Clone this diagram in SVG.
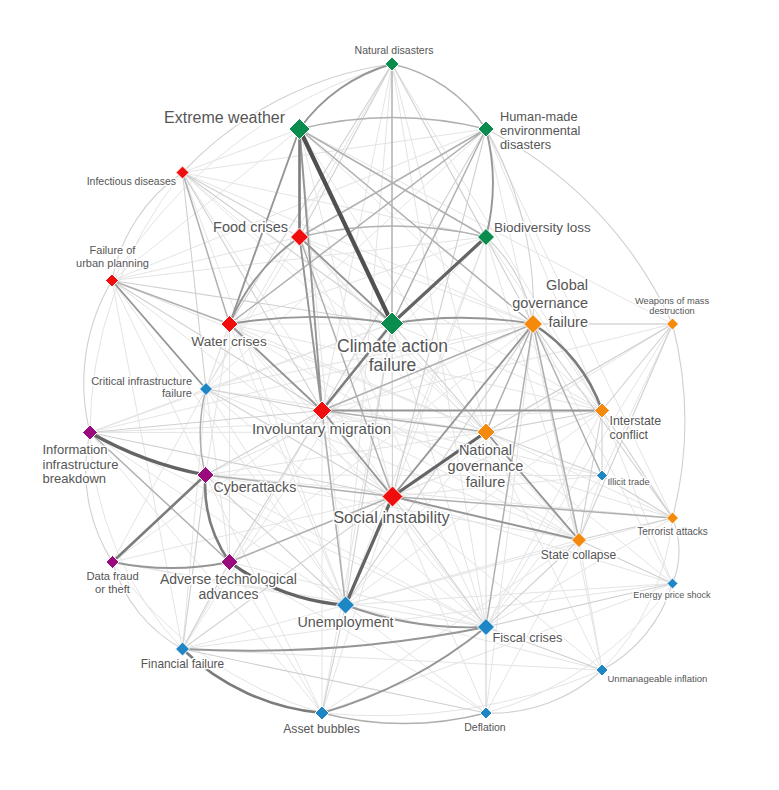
<svg xmlns="http://www.w3.org/2000/svg" width="779" height="790" viewBox="0 0 779 790">
<style>
.e0{stroke:#e4e4e4;stroke-width:1;fill:none}
.e1{stroke:#d0d0d0;stroke-width:1.1;fill:none}
.e2{stroke:#b0b0b0;stroke-width:1.5;fill:none}
.e3{stroke:#969696;stroke-width:1.9;fill:none}
.e4{stroke:#7c7c7c;stroke-width:2.6;fill:none}
.e5{stroke:#646464;stroke-width:3.2;fill:none}
.e6{stroke:#505050;stroke-width:4.2;fill:none}
.t{font-family:"Liberation Sans",Arial,Helvetica,sans-serif;fill:#565656;paint-order:stroke;stroke:#fff;stroke-width:3px;stroke-linejoin:round}
.g{fill:#0a8c4e;stroke:#fff;stroke-width:1}
.r{fill:#f00d0d;stroke:#fff;stroke-width:1}
.o{fill:#f5890c;stroke:#fff;stroke-width:1}
.b{fill:#1f86c6;stroke:#fff;stroke-width:1}
.p{fill:#9b0a7c;stroke:#fff;stroke-width:1}
</style>
<rect width="779" height="790" fill="#fff"/>
<g id="connectors" stroke-linecap="round">
<g class="e0">
<path d="M392 64L322 410.5M392 64L345.5 605M392 64L206 389M392 64L486 627M392 64L486 432M392 64L602 410.5"/>
<path d="M299.5 129L182.5 172.5M299.5 129L112 280.5M299.5 129L206 389M299.5 129L392.5 496.5M299.5 129L486 432M299.5 129L602 410.5M299.5 129L672.5 324M299.5 129L345.5 605"/>
<path d="M486 129L182.5 172.5M486 129L112 280.5M486 129L206 389M486 129L602 410.5M486 129L579 540M486 129L672.5 518"/>
<path d="M182.5 172.5L486 237M182.5 172.5L392.5 496.5M182.5 172.5L533 324M182.5 172.5L486 432M182.5 172.5L345.5 605M182.5 172.5L579 540"/>
<path d="M299.5 237L533 324M299.5 237L486 432M299.5 237L602 410.5M299.5 237L345.5 605M299.5 237L112 280.5M299.5 237L206 389M299.5 237L579 540M299.5 237L486 627"/>
<path d="M486 237L229.5 324M486 237L322 410.5M486 237L392.5 496.5M486 237L345.5 605M486 237L486 432M486 237L602 410.5M486 237L579 540M486 237L112 280.5M486 237L486 627"/>
<path d="M112 280.5L392.5 496.5M112 280.5L205.5 475M112 280.5L486 432M112 280.5L182.5 649M112 280.5L345.5 605"/>
<path d="M229.5 324L533 324M229.5 324L392.5 496.5M229.5 324L486 432M229.5 324L205.5 475M229.5 324L345.5 605M229.5 324L602 410.5M229.5 324L579 540M229.5 324L229.5 562M229.5 324L486 627M229.5 324L206 389"/>
<path d="M392 323.5L602 410.5M392 323.5L672.5 324M392 323.5L486 627M392 323.5L579 540M392 323.5L206 389M392 323.5L90 432.5M392 323.5L182.5 649M392 323.5L322 713"/>
<path d="M533 324L229.5 562M533 324L205.5 475M533 324L90 432.5M533 324L206 389M533 324L672.5 583.5M533 324L602 670M533 324L486 713"/>
<path d="M672.5 324L392.5 496.5M672.5 324L602 475.5M672.5 324L322 410.5M672.5 324L486 627"/>
<path d="M206 389L229.5 562M206 389L486 432M206 389L345.5 605M206 389L182.5 649M206 389L112.5 562M206 389L486 627M206 389L579 540M206 389L90 432.5"/>
<path d="M90 432.5L345.5 605M90 432.5L486 432M90 432.5L602 410.5M90 432.5L486 627M90 432.5L322 713"/>
<path d="M322 410.5L672.5 518M322 410.5L579 540M322 410.5L486 627M322 410.5L602 475.5M322 410.5L322 713M322 410.5L182.5 649M322 410.5L112.5 562"/>
<path d="M602 410.5L392.5 496.5M602 410.5L486 627M602 410.5L672.5 583.5M602 410.5L345.5 605M602 410.5L229.5 562"/>
<path d="M486 432L672.5 518M486 432L486 627M486 432L345.5 605M486 432L205.5 475M486 432L602 670M486 432L672.5 583.5"/>
<path d="M602 475.5L579 540M602 475.5L392.5 496.5M602 475.5L486 627M602 475.5L205.5 475"/>
<path d="M205.5 475L486 627M205.5 475L322 713M205.5 475L579 540M205.5 475L672.5 518"/>
<path d="M392.5 496.5L322 713M392.5 496.5L486 713M392.5 496.5L602 670M392.5 496.5L672.5 583.5M392.5 496.5L112.5 562"/>
<path d="M672.5 518L486 627M672.5 518L345.5 605M579 540L345.5 605M579 540L602 670M579 540L486 713M579 540L322 713"/>
<path d="M112.5 562L345.5 605M112.5 562L486 627M229.5 562L486 627M229.5 562L322 713M229.5 562L486 713"/>
<path d="M672.5 583.5L345.5 605M672.5 583.5L322 713M672.5 583.5L182.5 649M345.5 605L486 713M345.5 605L182.5 649M345.5 605L602 670M182.5 649L602 670"/>
<path d="M392 64A495 495 0 0 0 112 280.5"/>
<path d="M90 432.5A330 330 0 0 0 182.5 649"/>
<path d="M672.5 518A250 250 0 0 1 602 670"/>
<path d="M672.5 583.5A340 340 0 0 1 486 713"/>
<path d="M182.5 172.5A414 414 0 0 0 90 432.5"/>
<path d="M112.5 562A387 387 0 0 0 322 713"/>
<path d="M322 713A566 566 0 0 0 602 670"/>
</g>
<g class="e1">
<path d="M182.5 172.5L299.5 237M182.5 172.5L392 323.5M182.5 172.5L322 410.5M182.5 172.5L206 389"/>
<path d="M392 64L299.5 237M392 64L486 237M392 64L229.5 324M392 64L533 324"/>
<path d="M486 129L322 410.5M486 129L392.5 496.5"/>
<path d="M112 280.5L392 323.5M112 280.5L322 410.5M206 389L392.5 496.5M206 389L322 410.5M90 432.5L392.5 496.5M90 432.5L322 410.5"/>
<path d="M672.5 324L602 410.5M672.5 324L579 540M672.5 324L486 432M533 324L672.5 324"/>
<path d="M602 410.5L486 432M602 410.5L579 540M602 410.5L672.5 518M602 410.5L602 475.5M602 475.5L672.5 518M486 432L602 475.5"/>
<path d="M579 540L486 627M392.5 496.5L486 627M392.5 496.5L182.5 649M345.5 605L322 713M229.5 562L182.5 649"/>
<path d="M672.5 583.5L486 627M602 670L486 627M579 540L672.5 583.5M672.5 518L579 540M182.5 649L486 713"/>
<path d="M205.5 475L345.5 605M322 410.5L205.5 475M322 410.5L229.5 562M392 323.5L486 432M392 323.5L392.5 496.5M392 323.5L345.5 605"/>
<path d="M533 324L672.5 518M533 324L345.5 605M182.5 649L205.5 475M486 627L486 713"/>
<path d="M392 64A354 354 0 0 0 182.5 172.5"/>
<path d="M182.5 172.5A168 168 0 0 0 112 280.5"/>
<path d="M112 280.5A200 200 0 0 0 90 432.5"/>
<path d="M90 432.5A170 170 0 0 0 112.5 562"/>
<path d="M112.5 562A145 145 0 0 0 182.5 649"/>
<path d="M486 713A161 161 0 0 0 602 670"/>
<path d="M602 670A145 145 0 0 0 672.5 583.5"/>
<path d="M672.5 583.5A85 85 0 0 0 672.5 518"/>
<path d="M672.5 518A390 390 0 0 0 672.5 324"/>
<path d="M672.5 324A405 405 0 0 0 486 129"/>
<path d="M486 129A360 360 0 0 1 533 324"/>
<path d="M486 237A150 150 0 0 1 533 324"/>
</g>
<g class="e2">
<path d="M299.5 129A390 390 0 0 1 486 129"/>
<path d="M392 64A150 150 0 0 1 486 129"/>
<path d="M392 64L392 323.5"/>
<path d="M299.5 129L486 237"/>
<path d="M299.5 237A410 410 0 0 1 486 237"/>
<path d="M486 129L392 323.5M486 129L299.5 237M486 129L229.5 324"/>
<path d="M533 324L486 432M533 324L579 540M533 324L486 627M322 410.5L533 324M533 324L602 475.5"/>
<path d="M322 410.5L345.5 605M392.5 496.5L229.5 562M392.5 496.5L672.5 518M90 432.5L229.5 562"/>
<path d="M322 713A328 328 0 0 0 486 713"/>
<path d="M112 280.5L229.5 324M182.5 172.5L229.5 324"/>
<path d="M206 389A172 172 0 0 0 205.5 475"/>
<path d="M299.5 129L533 324M299.5 237L392.5 496.5M322 410.5L486 432M392.5 496.5L205.5 475"/>
</g>
<g class="e3">
<path d="M299.5 129A170 170 0 0 1 392 64"/>
<path d="M299.5 129L322 410.5M299.5 237L322 410.5M299.5 237L392 323.5M299.5 129L229.5 324"/>
<path d="M299.5 237A200 200 0 0 0 229.5 324"/>
<path d="M229.5 324A490 490 0 0 1 392 323.5"/>
<path d="M392 323.5A420 420 0 0 1 533 324"/>
<path d="M533 324L392.5 496.5"/>
<path d="M345.5 605A355 355 0 0 0 486 627"/>
<path d="M182.5 649A1200 1200 0 0 0 486 627"/>
<path d="M322 713A460 460 0 0 0 486 627"/>
<path d="M112.5 562A290 290 0 0 0 229.5 562"/>
<path d="M486 129A216 216 0 0 1 486 237"/>
<path d="M322 410.5L602 410.5M322 410.5L392.5 496.5M486 432L579 540M392.5 496.5L579 540M112 280.5L206 389M229.5 324L322 410.5"/>
</g>
<g class="e4">
<path d="M299.5 129L299.5 237M392 323.5L322 410.5M205.5 475L112.5 562"/>
<path d="M205.5 475A135 135 0 0 0 229.5 562"/>
<path d="M533 324A166 166 0 0 1 602 410.5"/>
<path d="M182.5 649A230 230 0 0 0 322 713"/>
</g>
<g class="e5">
<path d="M486 237L392 323.5M392.5 496.5L486 432M392.5 496.5L345.5 605"/>
<path d="M90 432.5A370 370 0 0 0 205.5 475"/>
<path d="M229.5 562A223 223 0 0 0 345.5 605"/>
</g>
<g class="e6">
<path d="M299.5 129L392 323.5"/>
</g>
</g>
<g id="nodes">
<g id="natural-disasters"><polygon class="g" points="392,57 399,64 392,71 385,64"/><text class="t" x="394" y="54" font-size="10.5" text-anchor="middle">Natural disasters</text></g>
<g id="extreme-weather"><polygon class="g" points="299.5,118.5 310,129 299.5,139.5 289,129"/><text class="t" x="285" y="123" font-size="16" text-anchor="end">Extreme weather</text></g>
<g id="human-made"><polygon class="g" points="486,121 494,129 486,137 478,129"/><text class="t" font-size="12.8"><tspan x="500" y="121">Human-made</tspan><tspan x="500" y="135">environmental</tspan><tspan x="500" y="149">disasters</tspan></text></g>
<g id="infectious-diseases"><polygon class="r" points="182.5,166 189,172.5 182.5,179 176,172.5"/><text class="t" x="176" y="185" font-size="10.5" text-anchor="end">Infectious diseases</text></g>
<g id="food-crises"><polygon class="r" points="299.5,228 308.5,237 299.5,246 290.5,237"/><text class="t" x="288" y="232" font-size="14.5" text-anchor="end">Food crises</text></g>
<g id="biodiversity-loss"><polygon class="g" points="486,228.5 494.5,237 486,245.5 477.5,237"/><text class="t" x="494" y="232" font-size="13.5">Biodiversity loss</text></g>
<g id="urban-planning"><polygon class="r" points="112,274 118.5,280.5 112,287 105.5,280.5"/><text class="t" font-size="11" text-anchor="middle"><tspan x="112.5" y="254">Failure of</tspan><tspan x="112.5" y="266.5">urban planning</tspan></text></g>
<g id="water-crises"><polygon class="r" points="229.5,315.5 238,324 229.5,332.5 221,324"/><text class="t" x="229" y="346" font-size="13.7" text-anchor="middle">Water crises</text></g>
<g id="climate-action-failure"><polygon class="g" points="392,312 403.5,323.5 392,335 380.5,323.5"/><text class="t" font-size="17.5" text-anchor="middle"><tspan x="392.5" y="352">Climate action</tspan><tspan x="392.5" y="371">failure</tspan></text></g>
<g id="global-governance-failure"><polygon class="o" points="533,314.5 542.5,324 533,333.5 523.5,324"/><text class="t" font-size="14.5" text-anchor="end"><tspan x="588" y="290">Global</tspan><tspan x="588" y="308">governance</tspan><tspan x="588" y="327">failure</tspan></text></g>
<g id="weapons"><polygon class="o" points="672.5,318 678.5,324 672.5,330 666.5,324"/><text class="t" font-size="9.3" text-anchor="middle"><tspan x="672" y="304">Weapons of mass</tspan><tspan x="672" y="314">destruction</tspan></text></g>
<g id="critical-infrastructure"><polygon class="b" points="206,382.5 212.5,389 206,395.5 199.5,389"/><text class="t" font-size="11" text-anchor="end"><tspan x="192" y="385">Critical infrastructure</tspan><tspan x="192" y="397">failure</tspan></text></g>
<g id="information-infrastructure"><polygon class="p" points="90,425 97.5,432.5 90,440 82.5,432.5"/><text class="t" font-size="13"><tspan x="42.5" y="454">Information</tspan><tspan x="42.5" y="468.5">infrastructure</tspan><tspan x="42.5" y="483">breakdown</tspan></text></g>
<g id="involuntary-migration"><polygon class="r" points="322,401 331.5,410.5 322,420 312.5,410.5"/><text class="t" x="321.5" y="434" font-size="15" text-anchor="middle">Involuntary migration</text></g>
<g id="interstate-conflict"><polygon class="o" points="602,403 609.5,410.5 602,418 594.5,410.5"/><text class="t" font-size="12.4"><tspan x="609.5" y="425">Interstate</tspan><tspan x="609.5" y="438.5">conflict</tspan></text></g>
<g id="national-governance-failure"><polygon class="o" points="486,423 495,432 486,441 477,432"/><text class="t" font-size="14.5" text-anchor="middle"><tspan x="485.5" y="455">National</tspan><tspan x="485.5" y="471">governance</tspan><tspan x="485.5" y="487">failure</tspan></text></g>
<g id="illicit-trade"><polygon class="b" points="602,470 607.5,475.5 602,481 596.5,475.5"/><text class="t" x="607.5" y="485" font-size="9.4">Illicit trade</text></g>
<g id="cyberattacks"><polygon class="p" points="205.5,466.5 214,475 205.5,483.5 197,475"/><text class="t" x="213.5" y="492" font-size="14.2">Cyberattacks</text></g>
<g id="social-instability"><polygon class="r" points="392.5,486 403,496.5 392.5,507 382,496.5"/><text class="t" x="391.5" y="522.5" font-size="16.4" text-anchor="middle">Social instability</text></g>
<g id="terrorist-attacks"><polygon class="o" points="672.5,512 678.5,518 672.5,524 666.5,518"/><text class="t" x="672.5" y="534.5" font-size="10" text-anchor="middle">Terrorist attacks</text></g>
<g id="state-collapse"><polygon class="o" points="579,532.5 586.5,540 579,547.5 571.5,540"/><text class="t" x="578.5" y="558.5" font-size="12" text-anchor="middle">State collapse</text></g>
<g id="data-fraud"><polygon class="p" points="112.5,555.5 119,562 112.5,568.5 106,562"/><text class="t" font-size="11.2" text-anchor="middle"><tspan x="112.5" y="579.5">Data fraud</tspan><tspan x="112.5" y="593">or theft</tspan></text></g>
<g id="adverse-tech"><polygon class="p" points="229.5,553.5 238,562 229.5,570.5 221,562"/><text class="t" font-size="14" text-anchor="middle"><tspan x="228.5" y="584">Adverse technological</tspan><tspan x="228.5" y="598.5">advances</tspan></text></g>
<g id="energy-price-shock"><polygon class="b" points="672.5,578 678,583.5 672.5,589 667,583.5"/><text class="t" x="672" y="597.5" font-size="9.1" text-anchor="middle">Energy price shock</text></g>
<g id="unemployment"><polygon class="b" points="345.5,596 354.5,605 345.5,614 336.5,605"/><text class="t" x="345.5" y="627" font-size="14.3" text-anchor="middle">Unemployment</text></g>
<g id="fiscal-crises"><polygon class="b" points="486,618.5 494.5,627 486,635.5 477.5,627"/><text class="t" x="492.5" y="642" font-size="12.7">Fiscal crises</text></g>
<g id="financial-failure"><polygon class="b" points="182.5,642 189.5,649 182.5,656 175.5,649"/><text class="t" x="182.5" y="667.5" font-size="11.9" text-anchor="middle">Financial failure</text></g>
<g id="unmanageable-inflation"><polygon class="b" points="602,664 608,670 602,676 596,670"/><text class="t" x="607.5" y="682" font-size="9.5">Unmanageable inflation</text></g>
<g id="asset-bubbles"><polygon class="b" points="322,706 329,713 322,720 315,713"/><text class="t" x="321.5" y="732.5" font-size="12.2" text-anchor="middle">Asset bubbles</text></g>
<g id="deflation"><polygon class="b" points="486,707 492,713 486,719 480,713"/><text class="t" x="485" y="731" font-size="10.5" text-anchor="middle">Deflation</text></g>
</g>
</svg>
